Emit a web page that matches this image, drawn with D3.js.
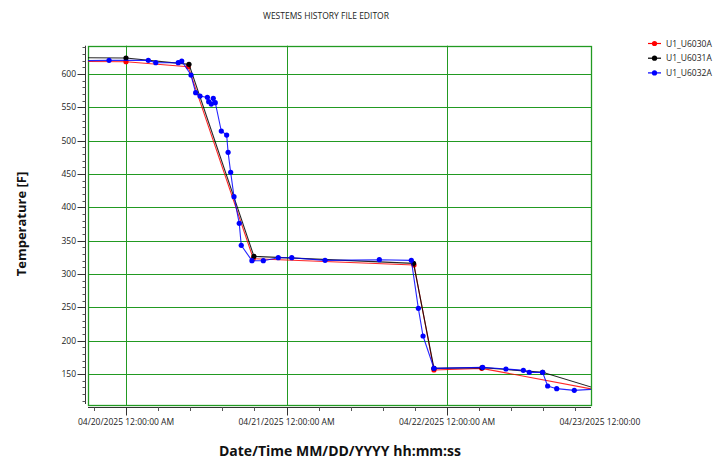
<!DOCTYPE html>
<html>
<head>
<meta charset="utf-8">
<script src="https://cdn.jsdelivr.net/npm/d3@7"></script>
<style>
    body { margin: 0; background: #fff; }
    text { font-family: "Open Sans", "Noto Sans", sans-serif; }
</style>
</head>
<body>
<div id="chart"></div>
<script>
// series names / colours
var seriesNames = ["U1_U6030A", "U1_U6031A", "U1_U6032A"];
var seriesColors = ["#ff0000", "#000000", "#0000ff"];

// U1_U6030A
var redTimes = ["2025-04-19 12:00", "2025-04-20 00:00", "2025-04-20 09:18", "2025-04-20 19:02",
    "2025-04-21 19:04", "2025-04-21 22:03", "2025-04-22 05:11", "2025-04-23 00:00"];
var redTemps = [619, 618.5, 611, 323, 313.5, 156, 158.5, 123];

// U1_U6031A
var blackTimes = ["2025-04-19 12:00", "2025-04-20 00:00", "2025-04-20 09:25", "2025-04-20 19:08",
    "2025-04-21 19:00", "2025-04-21 22:03", "2025-04-22 05:16", "2025-04-22 14:18", "2025-04-23 00:00"];
var blackTemps = [625, 624, 614.5, 326.5, 316, 158.5, 159.5, 152.5, 123];

// U1_U6032A
var blueTimes = ["2025-04-19 12:00", "2025-04-19 21:28", "2025-04-20 03:20", "2025-04-20 04:27",
    "2025-04-20 07:49", "2025-04-20 08:20", "2025-04-20 09:43", "2025-04-20 10:25", "2025-04-20 11:04",
    "2025-04-20 12:10", "2025-04-20 12:22", "2025-04-20 12:45", "2025-04-20 13:03", "2025-04-20 13:21",
    "2025-04-20 14:15", "2025-04-20 15:03", "2025-04-20 15:16", "2025-04-20 15:39", "2025-04-20 16:09",
    "2025-04-20 16:56", "2025-04-20 17:14", "2025-04-20 18:50", "2025-04-20 20:32", "2025-04-20 22:46",
    "2025-04-21 00:47", "2025-04-21 05:46", "2025-04-21 13:53", "2025-04-21 18:40", "2025-04-21 19:43",
    "2025-04-21 20:25", "2025-04-21 22:03", "2025-04-22 05:20", "2025-04-22 08:49", "2025-04-22 11:25",
    "2025-04-22 12:18", "2025-04-22 14:18", "2025-04-22 15:03", "2025-04-22 16:24", "2025-04-22 19:02",
    "2025-04-23 00:00"];
var blueTemps = [619.5, 620.5, 620.5, 617, 617, 619.5, 598.5, 572, 567, 565, 558.5, 555, 563.5, 557,
    514.5, 508.5, 482.5, 452.5, 416, 376, 343, 320, 320, 324.5, 324.5, 320.5, 321.5, 320.5, 248.5,
    207, 158.5, 160, 157.5, 155.5, 152.5, 152.5, 132, 128, 125.5, 128.5];

// axis settings
var xDomain = ["2025-04-19 18:19", "2025-04-22 21:32"];
var xMajorTicks = ["2025-04-20 00:00", "2025-04-21 00:00", "2025-04-22 00:00", "2025-04-23 00:00"];
var yDomain = [103.5, 642.5];
var yMajorTicks = [150, 200, 250, 300, 350, 400, 450, 500, 550, 600];

var parseTime = d3.timeParse("%Y-%m-%d %H:%M");
var formatTick = d3.timeFormat("%m/%d/%Y %I:%M:%S %p");

var width = 722, height = 460;
var plot = { left: 88, right: 591, top: 45.7, bottom: 405 };

var svg = d3.select("#chart").append("svg")
    .attr("width", width)
    .attr("height", height);

var x = d3.scaleTime()
    .domain(xDomain.map(parseTime))
    .range([plot.left, plot.right]);
var y = d3.scaleLinear()
    .domain(yDomain)
    .range([plot.bottom, plot.top]);

var green = "#229a22";

// clip paths
var defs = svg.append("defs");
defs.append("clipPath").attr("id", "plot-clip")
    .append("rect")
    .attr("x", plot.left).attr("y", plot.top)
    .attr("width", plot.right - plot.left).attr("height", plot.bottom - plot.top);
defs.append("clipPath").attr("id", "label-clip")
    .append("rect")
    .attr("x", 0).attr("y", 0).attr("width", 641).attr("height", height);

// title
svg.append("text")
    .attr("x", 326).attr("y", 19)
    .attr("text-anchor", "middle")
    .attr("font-size", "8.5px")
    .attr("fill", "#222")
    .text("WESTEMS HISTORY FILE EDITOR");

// grid lines
svg.append("g").selectAll("line.hgrid")
    .data(yMajorTicks)
    .enter().append("line")
    .attr("x1", plot.left).attr("x2", plot.right)
    .attr("y1", function(d) { return Math.round(y(d)) + 0.5; })
    .attr("y2", function(d) { return Math.round(y(d)) + 0.5; })
    .attr("stroke", green);

svg.append("g").selectAll("line.vgrid")
    .data(xMajorTicks.map(parseTime).filter(function(d) { return x(d) < plot.right; }))
    .enter().append("line")
    .attr("x1", function(d) { return Math.round(x(d)) + 0.5; })
    .attr("x2", function(d) { return Math.round(x(d)) + 0.5; })
    .attr("y1", plot.top).attr("y2", plot.bottom)
    .attr("stroke", green);

// plot border
svg.append("rect")
    .attr("x", plot.left + 0.5).attr("y", Math.round(plot.top) + 0.5)
    .attr("width", plot.right - plot.left)
    .attr("height", plot.bottom - Math.round(plot.top))
    .attr("fill", "none")
    .attr("stroke", green)
    .attr("stroke-width", 1.3);

// y axis (minor every 10, major every 50)
var yMinor = d3.range(110, 641, 10).filter(function(d) { return yMajorTicks.indexOf(d) < 0; });
var yAxisX = 85.5;
var yAxisG = svg.append("g").attr("class", "y-axis");
yAxisG.append("line")
    .attr("x1", yAxisX).attr("x2", yAxisX)
    .attr("y1", plot.top).attr("y2", plot.bottom - 1)
    .attr("stroke", "#333");
yAxisG.selectAll("line.minor")
    .data(yMinor)
    .enter().append("line")
    .attr("x1", yAxisX - 3).attr("x2", yAxisX)
    .attr("y1", function(d) { return Math.round(y(d)) + 0.5; })
    .attr("y2", function(d) { return Math.round(y(d)) + 0.5; })
    .attr("stroke", "#555");
yAxisG.selectAll("line.major")
    .data(yMajorTicks)
    .enter().append("line")
    .attr("x1", yAxisX - 8).attr("x2", yAxisX)
    .attr("y1", function(d) { return Math.round(y(d)) + 0.5; })
    .attr("y2", function(d) { return Math.round(y(d)) + 0.5; })
    .attr("stroke", "#333");
yAxisG.selectAll("text")
    .data(yMajorTicks)
    .enter().append("text")
    .attr("x", 76).attr("y", function(d) { return y(d) + 3; })
    .attr("text-anchor", "end")
    .attr("font-size", "8.5px")
    .attr("fill", "#222")
    .text(function(d) { return d; });

// x axis (major per day, 4 minor ticks between)
var xMajor = xMajorTicks.map(parseTime);
var xMinor = [];
xMajor.forEach(function(d) {
    for (var k = -4; k <= 4; k++) {
        if (k == 0) continue;
        var t = d3.timeMinute.offset(d, k * 288);
        if (x(t) >= plot.left && x(t) <= plot.right) xMinor.push(t);
    }
});
var xAxisY = 407.5;
var xAxisG = svg.append("g").attr("class", "x-axis");
xAxisG.append("line")
    .attr("x1", plot.left).attr("x2", plot.right)
    .attr("y1", xAxisY).attr("y2", xAxisY)
    .attr("stroke", "#333");
xAxisG.selectAll("line.minor")
    .data(xMinor)
    .enter().append("line")
    .attr("x1", function(d) { return Math.round(x(d)) + 0.5; })
    .attr("x2", function(d) { return Math.round(x(d)) + 0.5; })
    .attr("y1", xAxisY).attr("y2", xAxisY + 3.5)
    .attr("stroke", "#555");
xAxisG.selectAll("line.major")
    .data(xMajor.filter(function(d) { return x(d) <= plot.right; }))
    .enter().append("line")
    .attr("x1", function(d) { return Math.round(x(d)) + 0.5; })
    .attr("x2", function(d) { return Math.round(x(d)) + 0.5; })
    .attr("y1", xAxisY).attr("y2", xAxisY + 8)
    .attr("stroke", "#333");
xAxisG.append("g")
    .attr("clip-path", "url(#label-clip)")
    .selectAll("text")
    .data(xMajor)
    .enter().append("text")
    .attr("x", function(d) { return x(d); })
    .attr("y", 425)
    .attr("text-anchor", "middle")
    .attr("font-size", "8.5px")
    .attr("fill", "#222")
    .text(function(d) { return formatTick(d); });

// axis titles
svg.append("text")
    .attr("transform", "translate(26,224) rotate(-90)")
    .attr("text-anchor", "middle")
    .attr("font-size", "13px")
    .attr("font-weight", "bold")
    .attr("fill", "#111")
    .text("Temperature [F]");
svg.append("text")
    .attr("x", 340).attr("y", 456)
    .attr("text-anchor", "middle")
    .attr("font-size", "14px")
    .attr("font-weight", "bold")
    .attr("fill", "#111")
    .text("Date/Time MM/DD/YYYY hh:mm:ss");

// series
var series = [
    { name: seriesNames[0], color: seriesColors[0], times: redTimes, temps: redTemps },
    { name: seriesNames[1], color: seriesColors[1], times: blackTimes, temps: blackTemps },
    { name: seriesNames[2], color: seriesColors[2], times: blueTimes, temps: blueTemps }
];
series.forEach(function(s) {
    s.values = s.times.map(function(t, i) {
        return { date: parseTime(t), temp: s.temps[i] };
    });
});

var line = d3.line()
    .x(function(d) { return x(d.date); })
    .y(function(d) { return y(d.temp); });

var plotG = svg.append("g").attr("clip-path", "url(#plot-clip)");
var serG = plotG.selectAll("g.series")
    .data(series)
    .enter().append("g")
    .attr("class", "series");
serG.append("path")
    .attr("d", function(d) { return line(d.values); })
    .attr("fill", "none")
    .attr("stroke", function(d) { return d.color; })
    .attr("stroke-width", 1.1)
    .attr("stroke-opacity", 0.85);
serG.selectAll("circle")
    .data(function(d) { return d.values.map(function(v) { return { v: v, color: d.color }; }); })
    .enter().append("circle")
    .attr("cx", function(d) { return x(d.v.date); })
    .attr("cy", function(d) { return y(d.v.temp); })
    .attr("r", 2.6)
    .attr("fill", function(d) { return d.color; });

// legend
var legend = svg.append("g").attr("class", "legend");
var legItem = legend.selectAll("g")
    .data(series)
    .enter().append("g")
    .attr("transform", function(d, i) { return "translate(0," + (43.5 + i * 14.7) + ")"; });
legItem.append("line")
    .attr("x1", 648).attr("x2", 661)
    .attr("stroke", function(d) { return d.color; })
    .attr("stroke-width", 1.2);
legItem.append("circle")
    .attr("cx", 654.5).attr("r", 2.6)
    .attr("fill", function(d) { return d.color; });
legItem.append("text")
    .attr("x", 666).attr("y", 3)
    .attr("font-size", "8.5px")
    .attr("fill", "#222")
    .text(function(d) { return d.name; });
</script>
</body>
</html>
